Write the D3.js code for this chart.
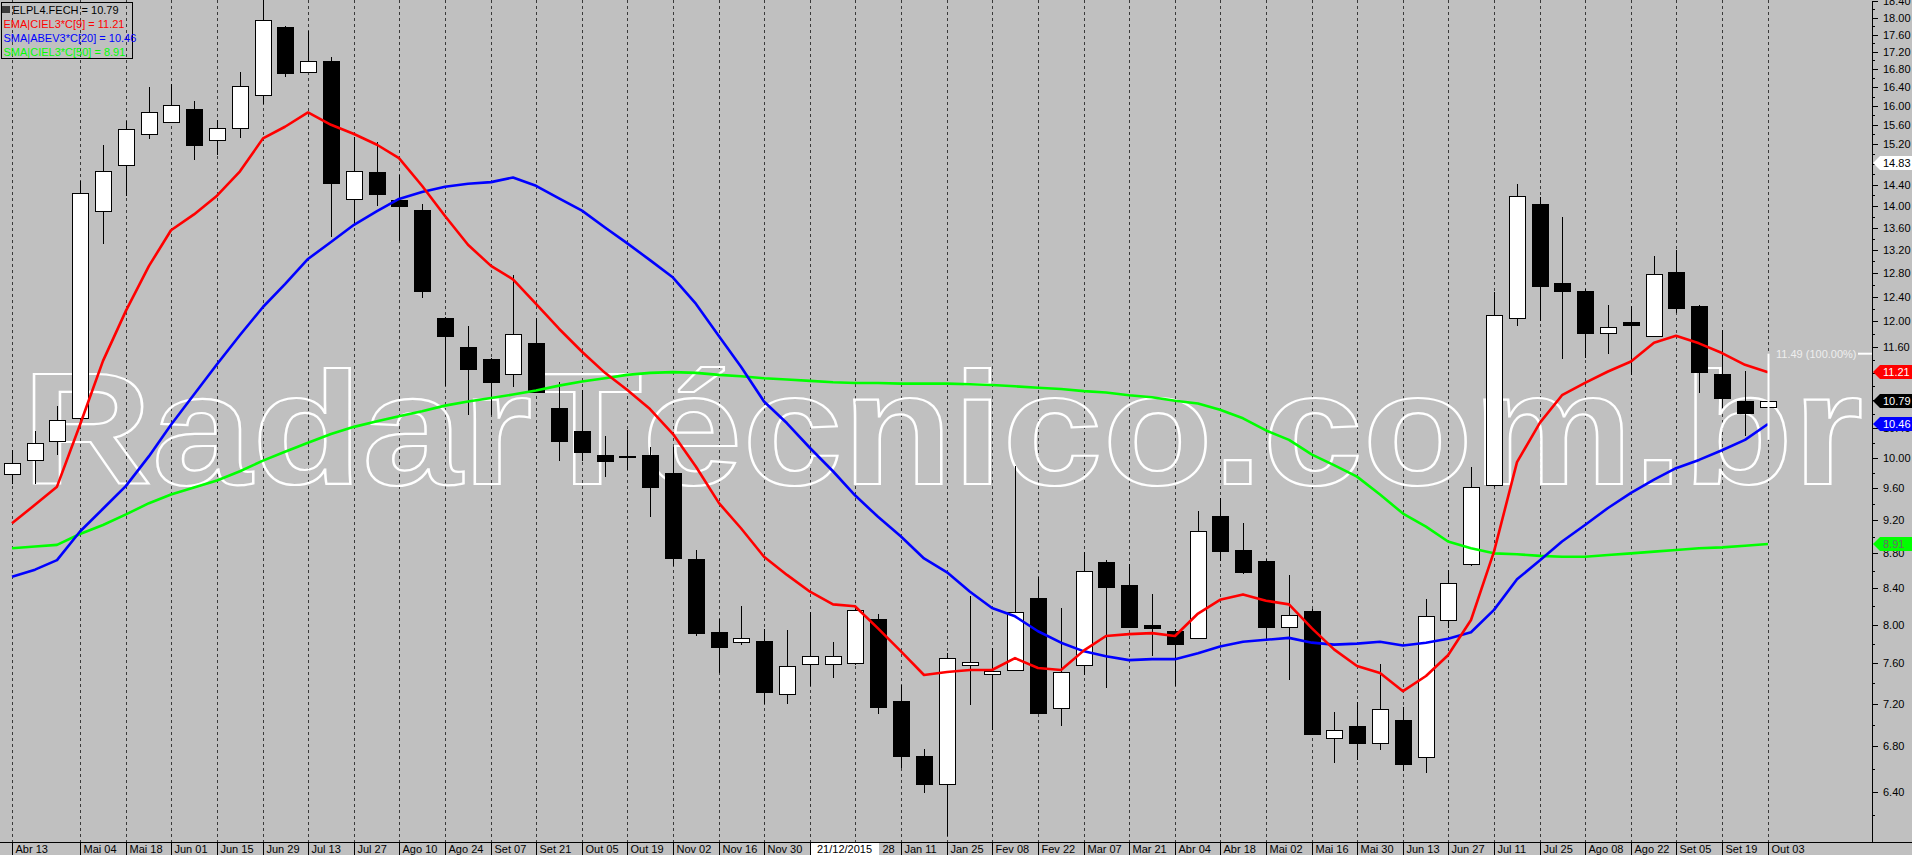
<!DOCTYPE html>
<html>
<head>
<meta charset="utf-8">
<script src="https://cdn.jsdelivr.net/npm/d3@7"></script>
<style>
  body { margin: 0; background: #c0c0c0; overflow: hidden; }
  svg { display: block; }
  text { font-family: "Liberation Sans", Arial, sans-serif; }
</style>
</head>
<body>
<div class="svg-wrapper"></div>
<script>
// weekly candles, first week starts 13/04/2015
const opens  = [9.79, 9.97, 10.22, 10.55, 13.90, 14.78, 15.40, 15.66, 15.94, 15.28,
                15.54, 16.23, 17.78, 16.73, 16.98, 14.13, 14.64, 14.11, 13.93, 12.05,
                11.59, 11.41, 11.18, 11.65, 10.68, 10.36, 10.03, 10.02, 10.03, 9.80,
                8.73, 7.92, 7.82, 7.83, 7.29, 7.59, 7.59, 7.60, 8.06, 7.22,
                6.71, 6.47, 7.58, 7.49, 7.53, 8.29, 7.16, 7.58, 8.70, 8.44,
                8.00, 7.93, 7.86, 9.25, 8.84, 8.71, 7.97, 8.15, 6.88, 6.99,
                6.83, 7.04, 6.70, 8.05, 8.68, 9.64, 12.05, 14.03, 12.63, 12.50,
                11.81, 11.99, 11.77, 12.81, 12.24, 11.19, 10.78, 10.70];
const highs  = [10.10, 10.36, 10.71, 14.48, 15.18, 15.69, 16.41, 16.47, 16.10, 15.71,
                16.73, 18.50, 17.80, 17.68, 17.08, 15.34, 15.25, 14.59, 14.04, 12.07,
                11.93, 11.43, 12.76, 12.05, 11.06, 10.95, 10.30, 10.37, 10.15, 10.14,
                8.84, 8.06, 8.20, 7.95, 7.94, 8.14, 7.82, 8.18, 8.11, 7.38,
                6.78, 7.70, 8.31, 7.75, 9.89, 8.53, 8.18, 8.81, 8.72, 8.67,
                8.33, 7.95, 9.31, 9.47, 9.17, 8.73, 8.55, 8.17, 7.12, 7.21,
                7.59, 7.17, 8.28, 8.61, 9.87, 12.48, 14.41, 14.16, 13.79, 12.52,
                12.26, 12.24, 13.09, 13.20, 12.26, 11.86, 11.22, 10.80];
const lows   = [9.65, 9.66, 10.03, 10.52, 13.31, 14.19, 15.30, 15.65, 14.89, 14.99,
                15.32, 16.04, 16.62, 16.71, 13.43, 13.67, 14.00, 13.36, 12.37, 11.01,
                10.59, 10.59, 10.99, 10.90, 9.96, 9.96, 9.74, 9.84, 9.24, 8.65,
                7.88, 7.50, 7.79, 7.20, 7.20, 7.37, 7.45, 7.58, 7.10, 6.61,
                6.39, 6.03, 7.19, 6.95, 7.52, 7.10, 6.99, 7.48, 7.35, 7.96,
                7.67, 7.37, 7.85, 8.71, 8.56, 7.84, 7.43, 6.90, 6.65, 6.68,
                6.77, 6.58, 6.56, 7.96, 8.65, 9.62, 11.93, 12.00, 11.41, 11.42,
                11.49, 11.17, 11.75, 12.13, 10.90, 10.68, 10.29, 10.69];
const closes = [9.93, 10.20, 10.52, 14.24, 14.66, 15.52, 15.86, 16.01, 15.19, 15.54,
                16.44, 17.95, 16.71, 16.98, 14.44, 14.66, 14.23, 13.99, 12.50, 11.76,
                11.25, 11.07, 11.79, 10.92, 10.23, 10.07, 9.95, 10.02, 9.62, 8.74,
                7.91, 7.77, 7.86, 7.31, 7.57, 7.67, 7.67, 8.16, 7.17, 6.71,
                6.47, 7.65, 7.61, 7.52, 8.14, 7.11, 7.51, 8.60, 8.41, 7.97,
                7.96, 7.80, 9.07, 8.83, 8.58, 7.98, 8.10, 6.91, 6.95, 6.83,
                7.15, 6.64, 8.09, 8.46, 9.62, 12.10, 14.19, 12.57, 12.50, 11.82,
                11.90, 11.94, 12.78, 12.21, 11.21, 10.83, 10.61, 10.79];

const ema9   = [9.16, 9.39, 9.62, 10.45, 11.38, 12.17, 12.92, 13.55, 13.84, 14.19,
                14.66, 15.32, 15.56, 15.86, 15.60, 15.41, 15.19, 14.92, 14.38, 13.81,
                13.29, 12.92, 12.69, 12.28, 11.88, 11.52, 11.20, 10.95, 10.67, 10.32,
                9.88, 9.41, 9.10, 8.76, 8.55, 8.36, 8.22, 8.20, 7.96, 7.72,
                7.48, 7.51, 7.53, 7.53, 7.65, 7.55, 7.53, 7.73, 7.88, 7.90,
                7.91, 7.88, 8.12, 8.27, 8.33, 8.26, 8.22, 7.96, 7.74, 7.57,
                7.50, 7.32, 7.47, 7.68, 8.05, 8.82, 9.94, 10.48, 10.87, 11.05,
                11.22, 11.37, 11.66, 11.77, 11.65, 11.50, 11.32, 11.21];
const sma20  = [8.53, 8.61, 8.72, 9.06, 9.34, 9.63, 10.02, 10.45, 10.88, 11.33,
                11.78, 12.23, 12.61, 13.04, 13.34, 13.65, 13.90, 14.13, 14.26, 14.36,
                14.42, 14.45, 14.54, 14.38, 14.14, 13.91, 13.60, 13.32, 13.02, 12.72,
                12.28, 11.76, 11.29, 10.78, 10.47, 10.13, 9.82, 9.51, 9.24, 9.00,
                8.74, 8.58, 8.36, 8.18, 8.09, 7.93, 7.81, 7.72, 7.67, 7.63,
                7.64, 7.64, 7.70, 7.77, 7.82, 7.84, 7.86, 7.81, 7.79, 7.80,
                7.82, 7.78, 7.81, 7.85, 7.92, 8.16, 8.50, 8.72, 8.94, 9.14,
                9.35, 9.54, 9.71, 9.86, 9.97, 10.10, 10.24, 10.46];
const sma50  = [8.86, 8.88, 8.90, 9.03, 9.14, 9.27, 9.41, 9.52, 9.61, 9.70,
                9.82, 9.96, 10.08, 10.20, 10.32, 10.42, 10.50, 10.57, 10.64, 10.72,
                10.78, 10.83, 10.88, 10.94, 11.01, 11.07, 11.12, 11.17, 11.20, 11.21,
                11.20, 11.17, 11.15, 11.12, 11.10, 11.08, 11.06, 11.05, 11.05, 11.04,
                11.04, 11.04, 11.03, 11.02, 11.00, 10.98, 10.96, 10.93, 10.91, 10.87,
                10.84, 10.79, 10.75, 10.66, 10.54, 10.37, 10.24, 10.04, 9.90, 9.75,
                9.52, 9.28, 9.12, 8.94, 8.86, 8.80, 8.79, 8.77, 8.76, 8.76,
                8.78, 8.80, 8.82, 8.84, 8.86, 8.87, 8.89, 8.91];

const xTickWeeks  = [0, 3, 5, 7, 9, 11, 13, 15, 17, 19, 21, 23, 25, 27, 29, 31, 33, 35, 37,
                     39, 41, 43, 45, 47, 49, 51, 53, 55, 57, 59, 61, 63, 65, 67, 69, 71, 73, 75, 77];
const xTickLabels = ["Abr 13", "Mai 04", "Mai 18", "Jun 01", "Jun 15", "Jun 29", "Jul 13", "Jul 27",
                     "Ago 10", "Ago 24", "Set 07", "Set 21", "Out 05", "Out 19", "Nov 02", "Nov 16",
                     "Nov 30", "Dez 14", "28", "Jan 11", "Jan 25", "Fev 08", "Fev 22", "Mar 07",
                     "Mar 21", "Abr 04", "Abr 18", "Mai 02", "Mai 16", "Mai 30", "Jun 13", "Jun 27",
                     "Jul 11", "Jul 25", "Ago 08", "Ago 22", "Set 05", "Set 19", "Out 03"];
const cursorWeek  = 35;
const cursorLabel = "21/12/2015";

const yTicks      = [6.4, 6.8, 7.2, 7.6, 8.0, 8.4, 8.8, 9.2, 9.6, 10.0, 10.4, 10.8, 11.2, 11.6, 12.0, 12.4,
                     12.8, 13.2, 13.6, 14.0, 14.4, 14.8, 15.2, 15.6, 16.0, 16.4, 16.8, 17.2, 17.6, 18.0, 18.4];
const yMinorTicks = [6.2, 6.6, 7.0, 7.4, 7.8, 8.2, 8.6, 9.0, 9.4, 9.8, 10.2, 10.6, 11.0, 11.4, 11.8, 12.2,
                     12.6, 13.0, 13.4, 13.8, 14.2, 14.6, 15.0, 15.4, 15.8, 16.2, 16.6, 17.0, 17.4, 17.8, 18.2];

const highMarker   = 14.83;
const targetRange  = [10.24, 11.49];
const targetLabel  = "11.49 (100.00%)";

const seriesNames = ["ELPL4.FECH", "EMA|CIEL3*C[9]", "SMA|ABEV3*C[20]", "SMA|CIEL3*C[50]"];

const width = 1912, height = 855;
const plotW = 1872, plotH = 842;
const fmt = d3.format(".2f");

const svg = d3.select(".svg-wrapper")
  .append("svg")
  .attr("width", width)
  .attr("height", height);

svg.append("rect")
  .attr("width", width).attr("height", height)
  .attr("fill", "#c0c0c0");

const x = d3.scaleLinear()
  .domain([0, 77])
  .range([11.7, 1767.7])
  .interpolate(d3.interpolateRound);

const y = d3.scaleLog()
  .domain([5.984, 18.431])
  .range([plotH, 0]);

svg.append("clipPath").attr("id", "plot-clip")
  .append("rect").attr("width", plotW).attr("height", plotH);

const g = svg.append("g").attr("clip-path", "url(#plot-clip)");

// dashed grid
g.selectAll(".grid")
  .data(xTickWeeks)
  .enter().append("line")
    .attr("class", "grid")
    .attr("x1", d => x(d) + 0.5).attr("x2", d => x(d) + 0.5)
    .attr("y1", 0).attr("y2", plotH)
    .attr("stroke", "#3a3a3a")
    .attr("stroke-dasharray", "3,3")
    .attr("shape-rendering", "crispEdges");

// watermark
g.append("text")
  .attr("x", 22)
  .attr("y", 484)
  .attr("textLength", 1841)
  .attr("lengthAdjust", "spacingAndGlyphs")
  .style("font-size", "160px")
  .style("font-weight", "bold")
  .attr("fill", "none")
  .attr("stroke", "#ffffff")
  .attr("stroke-width", 2.2)
  .text("RadarTécnico.com.br");

// candles
const candles = opens.map((o, i) => ({i: i, o: o, h: highs[i], l: lows[i], c: closes[i]}));

const candleG = g.selectAll(".candle")
  .data(candles)
  .enter().append("g")
    .attr("class", "candle")
    .attr("shape-rendering", "crispEdges");

candleG.append("line")
  .attr("x1", d => x(d.i) + 0.5).attr("x2", d => x(d.i) + 0.5)
  .attr("y1", d => Math.round(y(d.h))).attr("y2", d => Math.round(y(d.l)))
  .attr("stroke", "#000");

candleG.append("rect")
  .attr("x", d => x(d.i) - 8 + 0.5)
  .attr("width", 16)
  .attr("y", d => Math.round(y(Math.max(d.o, d.c))) + 0.5)
  .attr("height", d => Math.max(1, Math.round(y(Math.min(d.o, d.c))) - Math.round(y(Math.max(d.o, d.c)))))
  .attr("fill", d => d.c >= d.o ? "#ffffff" : "#000000")
  .attr("stroke", "#000");

// moving averages
const lineGen = d3.line()
  .x((d, i) => x(i))
  .y(d => y(d));

[[sma50, "#00ff00"], [sma20, "#0000ff"], [ema9, "#ff0000"]].forEach(function(s){
  g.append("path")
    .attr("d", lineGen(s[0]))
    .attr("fill", "none")
    .attr("stroke", s[1])
    .attr("stroke-width", 2.6)
    .attr("stroke-linejoin", "round");
});

// target line on last candle
const last = closes.length - 1;
g.append("line")
  .attr("x1", x(last) + 0.5).attr("x2", x(last) + 0.5)
  .attr("y1", y(targetRange[1])).attr("y2", y(targetRange[0]))
  .attr("stroke", "#ffffff")
  .attr("stroke-width", 2);

g.append("text")
  .attr("x", x(last) + 8)
  .attr("y", y(targetRange[1]) + 4)
  .style("font-size", "11px")
  .attr("fill", "#eeeeee")
  .text(targetLabel);

g.append("line")
  .attr("x1", plotW - 14).attr("x2", plotW)
  .attr("y1", y(targetRange[1])).attr("y2", y(targetRange[1]))
  .attr("stroke", "#ffffff")
  .attr("stroke-width", 2);

// legend
const legendValues = [closes[last], ema9[last], sma20[last], sma50[last]];
const legendColors = ["#000000", "#ff0000", "#0000ff", "#00ff00"];

svg.append("rect")
  .attr("x", 1.5).attr("y", 2.5)
  .attr("width", 131).attr("height", 56)
  .attr("fill", "none")
  .attr("stroke", "#000")
  .attr("shape-rendering", "crispEdges");

svg.append("rect")
  .attr("x", 2).attr("y", 6)
  .attr("width", 8).attr("height", 7)
  .attr("fill", "#3c3c3c");

svg.selectAll(".legend-text")
  .data(seriesNames)
  .enter().append("text")
    .attr("class", "legend-text")
    .attr("x", (d, i) => i == 0 ? 12.5 : 3.5)
    .attr("y", (d, i) => 13.5 + i * 14)
    .style("font-size", "11px")
    .attr("fill", (d, i) => legendColors[i])
    .text((d, i) => d + " = " + fmt(legendValues[i]));

// frame lines
svg.append("line")
  .attr("x1", 0).attr("x2", width)
  .attr("y1", plotH + 0.5).attr("y2", plotH + 0.5)
  .attr("stroke", "#000");

// x axis
const xAxis = d3.axisBottom(x)
  .tickValues(xTickWeeks)
  .tickFormat((d, i) => xTickLabels[i])
  .tickSize(13)
  .tickSizeOuter(0);

const xAxisG = svg.append("g")
  .attr("transform", `translate(0,${plotH})`)
  .call(xAxis);
xAxisG.select(".domain").remove();
xAxisG.attr("font-family", null).attr("font-size", null);
xAxisG.selectAll(".tick line").attr("stroke", "#000").attr("shape-rendering", "crispEdges");

const boxLeft = x(cursorWeek) + 1, boxRight = boxLeft + 68;
xAxisG.selectAll(".tick text")
  .attr("text-anchor", "start")
  .attr("y", 3)
  .attr("x", d => (x(d) >= boxLeft && x(d) < boxRight) ? boxRight - x(d) + 3 : 3)
  .style("font-size", "11px")
  .attr("fill", "#000")
  .style("display", d => d == cursorWeek ? "none" : null);

svg.append("rect")
  .attr("x", boxLeft).attr("y", plotH + 1)
  .attr("width", boxRight - boxLeft).attr("height", height - plotH - 1)
  .attr("fill", "#ffffff");

svg.append("text")
  .attr("x", boxLeft + 6)
  .attr("y", plotH + 11)
  .style("font-size", "11px")
  .attr("fill", "#000")
  .text(cursorLabel);

// y axis (log)
const yAxis = d3.axisRight(y)
  .tickValues(yTicks)
  .tickFormat(fmt)
  .tickSize(6)
  .tickPadding(5)
  .tickSizeOuter(0);

const yAxisG = svg.append("g")
  .attr("transform", `translate(${plotW},0)`)
  .call(yAxis);
yAxisG.attr("font-family", null).attr("font-size", null);
yAxisG.selectAll("text").style("font-size", "11px").attr("fill", "#000");
yAxisG.selectAll("line, path").attr("stroke", "#000").attr("shape-rendering", "crispEdges");

const yMinorG = svg.append("g")
  .attr("transform", `translate(${plotW},0)`)
  .call(d3.axisRight(y).tickValues(yMinorTicks).tickFormat("").tickSize(3));
yMinorG.select(".domain").remove();
yMinorG.selectAll("line").attr("stroke", "#000").attr("shape-rendering", "crispEdges");

// value markers on the price axis
const markers = [
  {v: highMarker,  fill: "#ffffff", color: "#000000"},
  {v: ema9[last],  fill: "#ff0000", color: "#ffffff"},
  {v: closes[last], fill: "#000000", color: "#ffffff"},
  {v: sma20[last], fill: "#0000ff", color: "#ffffff"},
  {v: sma50[last], fill: "#00ff00", color: "#6a6a6a"}
];

const markerG = svg.selectAll(".marker")
  .data(markers)
  .enter().append("g")
    .attr("class", "marker")
    .attr("transform", d => `translate(${plotW + 1},${Math.round(y(d.v))})`);

markerG.append("path")
  .attr("d", "M0,0L7,-7H40V7H7Z")
  .attr("fill", d => d.fill);

markerG.append("text")
  .attr("x", 10)
  .attr("y", 4)
  .style("font-size", "11px")
  .attr("fill", d => d.color)
  .text(d => fmt(d.v));
</script>
</body>
</html>
